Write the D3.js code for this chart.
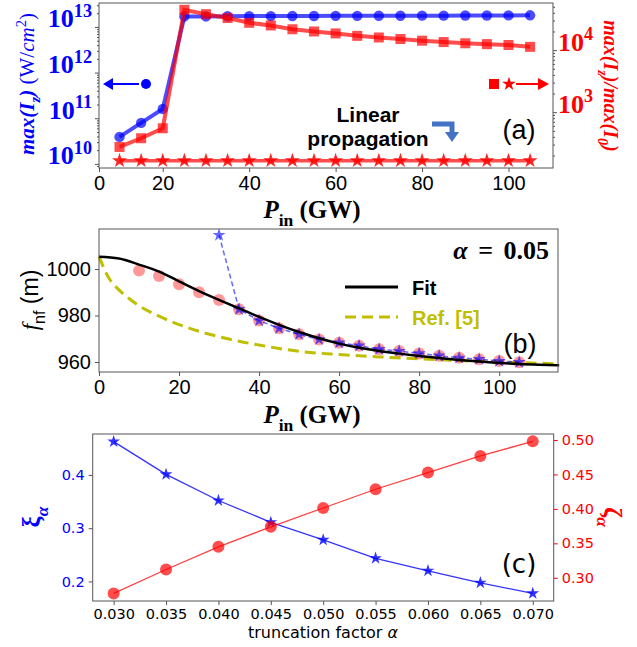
<!DOCTYPE html>
<html>
<head>
<meta charset="utf-8">
<script src="https://cdn.jsdelivr.net/npm/d3@7"></script>
<style>
  body { margin: 0; background: #fff; }
  svg { display: block; }
</style>
</head>
<body>
<div id="chart"></div>
<script>
"use strict"

// ---- panel (a): peak intensity / peak gain vs input power
var powerA = [10, 15, 20, 25, 30, 35, 40, 45, 50, 55, 60, 65, 70, 75, 80, 85, 90, 95, 100, 105];
var peakIntensity = [3.9e10, 7.9e10, 1.6e11, 1.70e13, 1.70e13, 1.72e13, 1.73e13, 1.73e13, 1.74e13, 1.74e13,
                     1.75e13, 1.75e13, 1.76e13, 1.76e13, 1.77e13, 1.77e13, 1.78e13, 1.78e13, 1.79e13, 1.80e13];
var peakGain = [275, 380, 550, 44700, 38000, 33000, 27600, 25000, 21700, 20000,
                18600, 17000, 16000, 15100, 14200, 13500, 12900, 12500, 12100, 11300];
var linearGain = [165, 165, 165, 165, 165, 165, 165, 165, 165, 165,
                  165, 165, 165, 165, 165, 165, 165, 165, 165, 165];
var ticksA = [20, 40, 60, 80, 100];

// ---- panel (b): nonlinear focus vs input power
var powerB = [10, 15, 20, 25, 30, 35, 40, 45, 50, 55, 60, 65, 70, 75, 80, 85, 90, 95, 100, 105];
var focusSim = [999.3, 997.0, 993.4, 990.0, 986.7, 982.7, 977.8, 974.5, 971.9, 969.7,
                968.3, 967.0, 965.5, 964.7, 963.7, 962.7, 961.8, 961.2, 960.4, 959.9];
var powerStar = [30, 35, 40, 45, 50, 55, 60, 65, 70, 75, 80, 85, 90, 95, 100, 105];
var focusStar = [1014.6, 982.7, 977.8, 974.5, 971.9, 969.7, 968.3, 967.0, 965.5, 964.7,
                 963.7, 962.7, 961.8, 961.2, 960.4, 959.9];
var fitPower = [0, 5, 10, 15, 20, 25, 30, 35, 40, 45, 50, 55, 60, 65, 70, 75, 80, 85, 90, 95, 100, 105, 110, 115];
var fitFocus = [1005.3, 1004.5, 1001.9, 998.9, 994.7, 990.5, 986.7, 983.1, 979.4, 976.0, 972.9, 970.2,
                967.9, 966.1, 964.7, 963.6, 962.6, 961.7, 960.9, 960.2, 959.6, 959.1, 958.8, 958.6];
var refPower = [0, 2.5, 5, 7.5, 10, 15, 20, 25, 30, 35, 40, 50, 60, 70, 80, 90, 100, 115];
var refFocus = [1005.3, 996.0, 991.0, 987.3, 984.2, 979.7, 976.1, 973.2, 970.9, 968.9, 967.3,
                964.6, 963.2, 962.2, 961.4, 960.6, 960.0, 959.2];
var ticksBx = [0, 20, 40, 60, 80, 100];
var ticksBy = [960, 980, 1000];

// ---- panel (c): xi and zeta vs truncation factor
var alphas = [0.030, 0.035, 0.040, 0.045, 0.050, 0.055, 0.060, 0.065, 0.070];
var xiVals = [0.4625, 0.401, 0.352, 0.311, 0.278, 0.2435, 0.220, 0.1975, 0.1775];
var zetaVals = [0.2773, 0.312, 0.345, 0.374, 0.4013, 0.4285, 0.4528, 0.4768, 0.498];
var ticksCl = [0.2, 0.3, 0.4];
var ticksCr = [0.30, 0.35, 0.40, 0.45, 0.50];

var W = 637, H = 647;
var BLUE = "#0000ff", RED = "#ff0000", YEL = "#bfbf00", SPINE = "#555";
var SANS = "'Liberation Sans', Arial, sans-serif";
var SERIF = "'Liberation Serif', 'DejaVu Serif', serif";
var DJV = "'DejaVu Sans', sans-serif";

let svg = d3.select("#chart").append("svg")
  .attr("width", W).attr("height", H);

// rich text helper: parts = [text, {sub|sup, italic, bold}]
function rich(sel, parts, size) {
  let shift = 0;
  parts.forEach(p => {
    let target = p.sub ? size * 0.3 : p.sup ? -size * 0.4 : 0;
    let ts = sel.append("tspan").text(p.t)
      .attr("dy", target - shift)
      .style("font-size", (p.sub || p.sup) ? (size * 0.7) + "px" : size + "px");
    if (p.italic) ts.style("font-style", "italic");
    if (p.bold === false) ts.style("font-weight", "normal");
    shift = target;
  });
}

function styleAxis(g, font, size, color) {
  g.select(".domain").remove();
  g.selectAll(".tick line").attr("stroke", SPINE);
  g.selectAll(".tick text").style("font-family", font).style("font-size", size + "px").attr("fill", color || "#000");
}

function spines(x0, y0, x1, y1) {
  svg.append("rect").attr("x", x0).attr("y", y0).attr("width", x1 - x0).attr("height", y1 - y0)
    .attr("fill", "none").attr("stroke", SPINE).attr("stroke-width", 1);
}

function star(size) { return d3.symbol().type(d3.symbolStar).size(size)(); }

// ===================== panel (a) =====================
let xA = d3.scaleLinear().domain([5.25, 110.3]).range([99, 553]);
let yA = d3.scaleLog().domain([Math.pow(10, 9.91), Math.pow(10, 13.525)]).range([168, 3]);
let yA2 = d3.scaleLog().domain([Math.pow(10, 2.10), Math.pow(10, 4.76)]).range([168, 3]);

let gxA = svg.append("g").attr("transform", "translate(0,168)")
  .call(d3.axisBottom(xA).tickValues([xA.domain()[0]].concat(ticksA))
    .tickFormat(d => d < ticksA[0] ? "0" : d).tickSize(4).tickPadding(4));
styleAxis(gxA, SANS, 20);

function minorLog(scale) {
  let [a, b] = scale.domain(), out = [];
  for (let e = Math.floor(Math.log10(a)); e <= Math.ceil(Math.log10(b)); e++)
    for (let m = 2; m <= 9; m++) { let v = m * Math.pow(10, e); if (v > a && v < b) out.push(v); }
  return out;
}

let gyAmin = svg.append("g").attr("transform", "translate(99,0)")
  .call(d3.axisLeft(yA).tickValues(minorLog(yA)).tickFormat("").tickSize(2));
styleAxis(gyAmin);
let gyA = svg.append("g").attr("transform", "translate(99,0)")
  .call(d3.axisLeft(yA).tickValues([1e10, 1e11, 1e12, 1e13]).tickFormat("").tickSize(4));
styleAxis(gyA);
gyA.selectAll(".tick").append("text")
  .attr("x", -7).attr("dy", "0.42em").attr("text-anchor", "end")
  .attr("fill", BLUE).style("font-family", SERIF).style("font-weight", "bold")
  .each(function (d) { rich(d3.select(this), [{t: "10"}, {t: String(Math.round(Math.log10(d))), sup: true}], 26); });

let gyA2min = svg.append("g").attr("transform", "translate(553,0)")
  .call(d3.axisRight(yA2).tickValues(minorLog(yA2)).tickFormat("").tickSize(2));
styleAxis(gyA2min);
let gyA2 = svg.append("g").attr("transform", "translate(553,0)")
  .call(d3.axisRight(yA2).tickValues([1e3, 1e4]).tickFormat("").tickSize(4));
styleAxis(gyA2);
gyA2.selectAll(".tick").append("text")
  .attr("x", 5).attr("dy", "0.42em").attr("text-anchor", "start")
  .attr("fill", RED).style("font-family", SERIF).style("font-weight", "bold")
  .each(function (d) { rich(d3.select(this), [{t: "10"}, {t: String(Math.round(Math.log10(d))), sup: true}], 26); });

let lineBlue = d3.line().x((d, i) => xA(powerA[i])).y(d => yA(d));
let lineRed = d3.line().x((d, i) => xA(powerA[i])).y(d => yA2(d));

svg.append("path").datum(linearGain).attr("d", lineRed)
  .attr("fill", "none").attr("stroke", RED).attr("stroke-width", 3.5).attr("opacity", 0.7);
svg.append("g").selectAll("path").data(linearGain).join("path")
  .attr("d", star(70)).attr("transform", (d, i) => `translate(${xA(powerA[i])},${yA2(d)})`)
  .attr("fill", RED).attr("opacity", 0.85);

svg.append("path").datum(peakIntensity).attr("d", lineBlue)
  .attr("fill", "none").attr("stroke", BLUE).attr("stroke-width", 4).attr("opacity", 0.7);
svg.append("g").selectAll("circle").data(peakIntensity).join("circle")
  .attr("cx", (d, i) => xA(powerA[i])).attr("cy", d => yA(d)).attr("r", 5.2)
  .attr("fill", BLUE).attr("opacity", 0.7);

svg.append("path").datum(peakGain).attr("d", lineRed)
  .attr("fill", "none").attr("stroke", RED).attr("stroke-width", 4).attr("opacity", 0.7);
svg.append("g").selectAll("rect").data(peakGain).join("rect")
  .attr("x", (d, i) => xA(powerA[i]) - 5).attr("y", d => yA2(d) - 5)
  .attr("width", 10).attr("height", 10).attr("fill", RED).attr("opacity", 0.7);

spines(99, 3, 553, 168);

// legends with arrows
svg.append("line").attr("x1", 110).attr("x2", 139).attr("y1", 84).attr("y2", 84)
  .attr("stroke", BLUE).attr("stroke-width", 2);
svg.append("path").attr("d", "M103,84 L113,78 L113,90 Z").attr("fill", BLUE);
svg.append("circle").attr("cx", 146).attr("cy", 84).attr("r", 5).attr("fill", BLUE);

svg.append("rect").attr("x", 489).attr("y", 79).attr("width", 10).attr("height", 10).attr("fill", RED);
svg.append("path").attr("d", star(60)).attr("transform", "translate(509,84)").attr("fill", RED);
svg.append("line").attr("x1", 516).attr("x2", 540).attr("y1", 84).attr("y2", 84)
  .attr("stroke", RED).attr("stroke-width", 2);
svg.append("path").attr("d", "M549,84 L538,78 L538,90 Z").attr("fill", RED);

svg.append("text").attr("x", 368).attr("y", 122).attr("text-anchor", "middle")
  .style("font-family", SANS).style("font-weight", "bold").style("font-size", "21px").text("Linear");
svg.append("text").attr("x", 368).attr("y", 146).attr("text-anchor", "middle")
  .style("font-family", SANS).style("font-weight", "bold").style("font-size", "21px").text("propagation");
svg.append("path").attr("d", "M432,124 L452,124 L452,133").attr("fill", "none")
  .attr("stroke", "#4472c4").attr("stroke-width", 5);
svg.append("path").attr("d", "M445,132 L459,132 L452,142 Z").attr("fill", "#4472c4");

svg.append("text").attr("x", 519).attr("y", 139).attr("text-anchor", "middle")
  .style("font-family", SANS).style("font-size", "27px").text("(a)");

// axis labels (a)
let labA = svg.append("text").attr("transform", "translate(34,84) rotate(-90)")
  .attr("text-anchor", "middle").attr("fill", BLUE)
  .style("font-family", SERIF).style("font-weight", "bold");
rich(labA, [{t: "max(", italic: true}, {t: "I", italic: true}, {t: "z", sub: true, italic: true},
  {t: ")", italic: true}, {t: " (W/", bold: false}, {t: "cm", italic: true, bold: false},
  {t: "2", sup: true, bold: false}, {t: ")", bold: false}], 21);

let labA2 = svg.append("text").attr("transform", "translate(604,86) rotate(90)")
  .attr("text-anchor", "middle").attr("fill", RED)
  .style("font-family", SERIF).style("font-weight", "bold");
rich(labA2, [{t: "max(", italic: true}, {t: "I", italic: true}, {t: "z", sub: true, italic: true},
  {t: ")/max(", italic: true}, {t: "I", italic: true}, {t: "0", sub: true, italic: true}, {t: ")", italic: true}], 20);

function pinLabel(x, y) {
  let t = svg.append("text").attr("x", x).attr("y", y).attr("text-anchor", "middle")
    .style("font-family", SERIF).style("font-weight", "bold");
  rich(t, [{t: "P", italic: true}, {t: "in", sub: true}, {t: " (GW)"}], 25);
}
pinLabel(312, 218);

// ===================== panel (b) =====================
let xB = d3.scaleLinear().domain([0, 114.7]).range([99, 558]);
let yB = d3.scaleLinear().domain([955.7, 1017.2]).range([372, 229]);

let gxB = svg.append("g").attr("transform", "translate(0,372)")
  .call(d3.axisBottom(xB).tickValues(ticksBx).tickSize(4).tickPadding(4));
styleAxis(gxB, SANS, 20);
let gyB = svg.append("g").attr("transform", "translate(99,0)")
  .call(d3.axisLeft(yB).tickValues(ticksBy).tickFormat(d3.format("d")).tickSize(4).tickPadding(4));
styleAxis(gyB, SANS, 20);

svg.append("path").datum(refFocus)
  .attr("d", d3.line().x((d, i) => xB(refPower[i])).y(d => yB(d)).curve(d3.curveMonotoneX))
  .attr("fill", "none").attr("stroke", YEL).attr("stroke-width", 3).attr("stroke-dasharray", "11,6");

svg.append("g").selectAll("circle").data(focusSim).join("circle")
  .attr("cx", (d, i) => xB(powerB[i])).attr("cy", d => yB(d)).attr("r", 6)
  .attr("fill", RED).attr("opacity", 0.4);

svg.append("path").datum(focusStar)
  .attr("d", d3.line().x((d, i) => xB(powerStar[i])).y(d => yB(d)))
  .attr("fill", "none").attr("stroke", BLUE).attr("stroke-width", 1.5)
  .attr("stroke-dasharray", "5,3").attr("opacity", 0.6);
svg.append("g").selectAll("path").data(focusStar).join("path")
  .attr("d", star(55)).attr("transform", (d, i) => `translate(${xB(powerStar[i])},${yB(d)})`)
  .attr("fill", BLUE).attr("opacity", 0.6);

svg.append("path").datum(fitFocus)
  .attr("d", d3.line().x((d, i) => xB(fitPower[i])).y(d => yB(d)).curve(d3.curveMonotoneX))
  .attr("fill", "none").attr("stroke", "#000").attr("stroke-width", 2.5);

spines(99, 229, 558, 372);

svg.append("line").attr("x1", 345).attr("x2", 398).attr("y1", 287).attr("y2", 287)
  .attr("stroke", "#000").attr("stroke-width", 3);
svg.append("text").attr("x", 412).attr("y", 295)
  .style("font-family", SANS).style("font-weight", "bold").style("font-size", "20px").text("Fit");
svg.append("line").attr("x1", 345).attr("x2", 398).attr("y1", 317).attr("y2", 317)
  .attr("stroke", YEL).attr("stroke-width", 3).attr("stroke-dasharray", "11,6");
svg.append("text").attr("x", 412).attr("y", 325).attr("fill", YEL)
  .style("font-family", SANS).style("font-weight", "bold").style("font-size", "20px").text("Ref. [5]");

let alphaT = svg.append("text").attr("x", 549).attr("y", 259).attr("text-anchor", "end")
  .style("font-family", SERIF).style("font-weight", "bold").style("word-spacing", "4px");
rich(alphaT, [{t: "α", italic: true}, {t: " = 0.05"}], 26);

svg.append("text").attr("x", 520).attr("y", 353).attr("text-anchor", "middle")
  .style("font-family", SANS).style("font-size", "27px").text("(b)");

let labB = svg.append("text").attr("transform", "translate(38,300) rotate(-90)")
  .attr("text-anchor", "middle").style("font-family", SANS);
rich(labB, [{t: "f", italic: true}, {t: "nf", sub: true}, {t: " (m)"}], 23);
labB.select("tspan").style("font-family", SERIF);

pinLabel(312, 423);

// ===================== panel (c) =====================
let xC = d3.scaleLinear().domain([0.028, 0.072]).range([92.7, 553.7]);
let yC = d3.scaleLinear().domain([0.1633, 0.4768]).range([601, 434]);
let yC2 = d3.scaleLinear().domain([0.2663, 0.5087]).range([601, 434]);

let gxC = svg.append("g").attr("transform", "translate(0,601)")
  .call(d3.axisBottom(xC).tickValues(alphas).tickFormat(d3.format(".3f")).tickSize(4).tickPadding(4));
styleAxis(gxC, DJV, 14.5);
let gyC = svg.append("g").attr("transform", "translate(92.7,0)")
  .call(d3.axisLeft(yC).tickValues(ticksCl).tickFormat(d3.format(".1f")).tickSize(4).tickPadding(4));
styleAxis(gyC, DJV, 14.5, BLUE);
let gyC2 = svg.append("g").attr("transform", "translate(553.7,0)")
  .call(d3.axisRight(yC2).tickValues(ticksCr).tickFormat(d3.format(".2f")).tickSize(4).tickPadding(4));
styleAxis(gyC2, DJV, 14.5, RED);
gyC2.selectAll(".tick line").attr("stroke", RED);

svg.append("path").datum(xiVals)
  .attr("d", d3.line().x((d, i) => xC(alphas[i])).y(d => yC(d)))
  .attr("fill", "none").attr("stroke", BLUE).attr("stroke-width", 1.3).attr("opacity", 0.8);
svg.append("g").selectAll("path").data(xiVals).join("path")
  .attr("d", star(50)).attr("transform", (d, i) => `translate(${xC(alphas[i])},${yC(d)})`)
  .attr("fill", BLUE).attr("opacity", 0.8);

svg.append("path").datum(zetaVals)
  .attr("d", d3.line().x((d, i) => xC(alphas[i])).y(d => yC2(d)))
  .attr("fill", "none").attr("stroke", RED).attr("stroke-width", 1.3).attr("opacity", 0.75);
svg.append("g").selectAll("circle").data(zetaVals).join("circle")
  .attr("cx", (d, i) => xC(alphas[i])).attr("cy", d => yC2(d)).attr("r", 6)
  .attr("fill", RED).attr("opacity", 0.7);

spines(92.7, 434, 553.7, 601);

svg.append("text").attr("x", 519).attr("y", 573).attr("text-anchor", "middle")
  .style("font-family", DJV).style("font-size", "26px").text("(c)");

let labC = svg.append("text").attr("transform", "translate(40,517) rotate(-90)")
  .attr("text-anchor", "middle").attr("fill", BLUE).style("font-family", SERIF).style("font-weight", "bold");
rich(labC, [{t: "ξ"}, {t: "α", sub: true, italic: true}], 25);
let labC2 = svg.append("text").attr("transform", "translate(604,517) rotate(90)")
  .attr("text-anchor", "middle").attr("fill", RED).style("font-family", SERIF).style("font-weight", "bold");
rich(labC2, [{t: "ζ"}, {t: "α", sub: true, italic: true}], 25);

let labCx = svg.append("text").attr("x", 323).attr("y", 638).attr("text-anchor", "middle")
  .style("font-family", DJV).style("font-size", "16px");
rich(labCx, [{t: "truncation factor "}, {t: "α", italic: true}], 16);
</script>
</body>
</html>
